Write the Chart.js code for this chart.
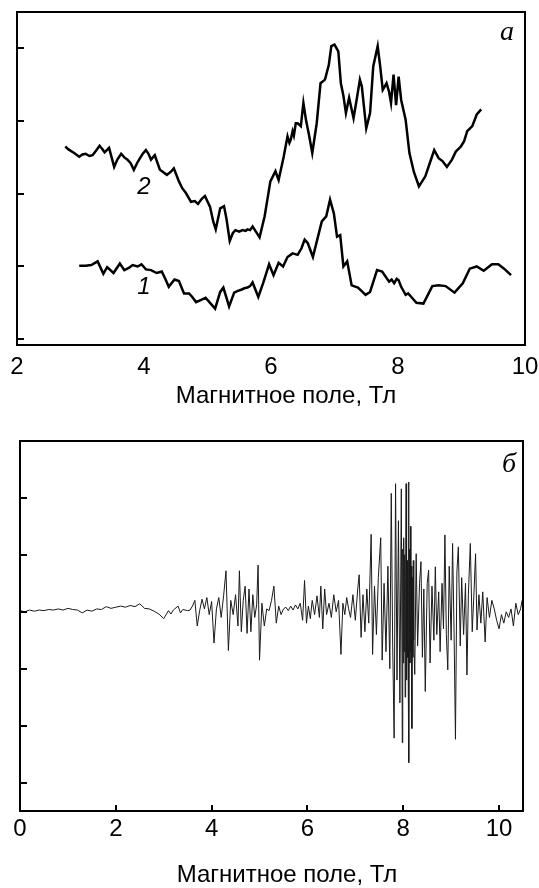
<!DOCTYPE html>
<html lang="ru">
<head>
<meta charset="UTF-8" />
<title>Магнитное поле, Тл</title>
<script src="https://cdn.jsdelivr.net/npm/chart.js"></script>
<style>
  body { margin: 0; background: #fff; }
  .wrap { position: relative; width: 539px; height: 888px; }
  canvas { position: absolute; left: 0; }
  #chartA { top: 0; }
  #chartB { top: 430px; }
</style>
</head>
<body>
<div class="wrap">
  <canvas id="chartA" width="539" height="430"></canvas>
  <canvas id="chartB" width="539" height="458"></canvas>
</div>
<script>
// panel a, curve 2
const fieldA2 = [2.76, 2.81, 2.90, 2.98, 3.03, 3.08, 3.14, 3.19, 3.25, 3.30, 3.34, 3.38, 3.45, 3.49, 3.53, 3.58, 3.64, 3.69, 3.74, 3.79, 3.84, 3.89, 3.93, 3.98, 4.03, 4.07, 4.11, 4.17, 4.25, 4.30, 4.36, 4.42, 4.47, 4.55, 4.60, 4.66, 4.74, 4.80, 4.85, 4.91, 4.96, 5.04, 5.09, 5.13, 5.20, 5.26, 5.30, 5.35, 5.40, 5.44, 5.50, 5.55, 5.60, 5.63, 5.67, 5.71, 5.77, 5.82, 5.90, 5.99, 6.07, 6.12, 6.20, 6.26, 6.29, 6.31, 6.34, 6.36, 6.39, 6.42, 6.47, 6.51, 6.55, 6.60, 6.65, 6.72, 6.78, 6.85, 6.91, 6.95, 7.00, 7.06, 7.10, 7.14, 7.18, 7.23, 7.30, 7.35, 7.40, 7.43, 7.50, 7.56, 7.61, 7.68, 7.72, 7.76, 7.82, 7.86, 7.89, 7.93, 7.97, 8.01, 8.05, 8.12, 8.18, 8.25, 8.33, 8.43, 8.50, 8.57, 8.64, 8.70, 8.77, 8.85, 8.91, 8.99, 9.04, 9.09, 9.17, 9.24, 9.31];
const signalA2 = [2.65, 2.61, 2.56, 2.51, 2.54, 2.55, 2.52, 2.53, 2.60, 2.66, 2.62, 2.57, 2.63, 2.50, 2.37, 2.47, 2.55, 2.50, 2.47, 2.42, 2.33, 2.42, 2.48, 2.55, 2.60, 2.55, 2.47, 2.53, 2.33, 2.30, 2.26, 2.30, 2.35, 2.17, 2.08, 2.01, 1.89, 1.90, 1.86, 1.93, 1.97, 1.82, 1.62, 1.51, 1.80, 1.83, 1.65, 1.35, 1.46, 1.50, 1.48, 1.50, 1.49, 1.51, 1.50, 1.55, 1.47, 1.40, 1.69, 2.17, 2.31, 2.19, 2.51, 2.79, 2.70, 2.74, 2.86, 2.80, 2.97, 2.97, 2.93, 3.25, 3.02, 2.80, 2.56, 2.97, 3.52, 3.57, 3.77, 4.03, 4.05, 3.96, 3.52, 3.35, 3.11, 3.32, 3.04, 3.30, 3.57, 3.48, 2.90, 3.11, 3.75, 4.03, 3.75, 3.43, 3.52, 3.40, 3.25, 3.64, 3.22, 3.61, 3.29, 3.02, 2.56, 2.30, 2.10, 2.24, 2.42, 2.60, 2.49, 2.45, 2.37, 2.47, 2.58, 2.65, 2.72, 2.86, 2.93, 3.09, 3.16];

// panel a, curve 1
const fieldA1 = [2.98, 3.08, 3.17, 3.27, 3.36, 3.42, 3.52, 3.62, 3.69, 3.76, 3.82, 3.90, 3.96, 4.03, 4.11, 4.20, 4.28, 4.34, 4.39, 4.48, 4.55, 4.63, 4.71, 4.76, 4.82, 4.90, 4.97, 5.04, 5.12, 5.20, 5.25, 5.34, 5.42, 5.47, 5.53, 5.58, 5.63, 5.67, 5.71, 5.80, 5.88, 5.97, 6.04, 6.12, 6.19, 6.26, 6.34, 6.42, 6.48, 6.53, 6.58, 6.66, 6.74, 6.80, 6.87, 6.93, 6.99, 7.04, 7.09, 7.14, 7.20, 7.27, 7.37, 7.49, 7.56, 7.67, 7.75, 7.86, 7.90, 7.94, 7.98, 8.01, 8.05, 8.12, 8.16, 8.21, 8.29, 8.40, 8.54, 8.64, 8.75, 8.89, 9.02, 9.13, 9.24, 9.35, 9.48, 9.58, 9.67, 9.78];
const signalA1 = [1.01, 1.01, 1.02, 1.07, 0.90, 0.99, 0.91, 1.04, 0.95, 0.98, 1.02, 1.00, 1.03, 0.96, 0.95, 0.91, 0.93, 0.82, 0.72, 0.82, 0.80, 0.63, 0.63, 0.58, 0.51, 0.54, 0.57, 0.50, 0.42, 0.65, 0.71, 0.45, 0.64, 0.66, 0.68, 0.70, 0.71, 0.73, 0.78, 0.58, 0.78, 1.03, 0.88, 1.05, 1.00, 1.13, 1.18, 1.16, 1.25, 1.37, 1.32, 1.13, 1.41, 1.62, 1.69, 1.92, 1.73, 1.41, 1.43, 1.00, 1.07, 0.74, 0.71, 0.61, 0.65, 0.95, 0.93, 0.79, 0.82, 0.77, 0.83, 0.81, 0.72, 0.61, 0.63, 0.58, 0.50, 0.49, 0.73, 0.74, 0.73, 0.64, 0.77, 0.97, 1.00, 0.94, 1.03, 1.03, 0.97, 0.88];

// panel б
const fieldB = [0.0, 0.1, 0.2, 0.3, 0.4, 0.5, 0.6, 0.7, 0.8, 0.9, 1.0, 1.1, 1.2, 1.3, 1.4, 1.5, 1.6, 1.7, 1.8, 1.9, 2.0, 2.1, 2.2, 2.3, 2.4, 2.5, 2.6, 2.7, 2.8, 2.9, 3.0, 3.1, 3.15, 3.2, 3.3, 3.35, 3.4, 3.5, 3.55,
  3.60, 3.65, 3.70, 3.75, 3.80, 3.85, 3.90, 3.95, 4.00, 4.05, 4.10, 4.15, 4.20, 4.25, 4.30, 4.35, 4.40, 4.45, 4.50, 4.55, 4.58, 4.62, 4.66, 4.70, 4.74, 4.78, 4.82, 4.86, 4.90, 4.94, 4.97, 5.00, 5.05, 5.10, 5.15, 5.20, 5.25, 5.30, 5.35, 5.40, 5.45, 5.50, 5.55, 5.60, 5.65, 5.70, 5.75, 5.80, 5.85, 5.90, 5.94, 5.98, 6.02, 6.06, 6.10, 6.15, 6.20, 6.25, 6.28, 6.32, 6.36, 6.40, 6.45, 6.50, 6.55, 6.60, 6.65, 6.70, 6.74, 6.78, 6.82, 6.86, 6.90, 6.95, 7.00, 7.05, 7.08, 7.12, 7.16, 7.20, 7.24, 7.28, 7.33, 7.36, 7.40, 7.44, 7.48, 7.53, 7.56, 7.60, 7.64, 7.68, 7.72, 7.75, 7.78, 7.81, 7.84, 7.87, 7.90, 7.93, 7.96, 7.98, 7.99, 8.00, 8.01, 8.02, 8.03, 8.04, 8.05, 8.06, 8.07, 8.08, 8.09, 8.10, 8.11, 8.12, 8.13, 8.14, 8.15, 8.16, 8.17, 8.18, 8.19, 8.20, 8.21, 8.22, 8.24, 8.27, 8.30, 8.34, 8.37, 8.40, 8.43, 8.46, 8.50, 8.53, 8.56, 8.60, 8.64, 8.67, 8.70, 8.74, 8.77, 8.81, 8.84, 8.87, 8.90, 8.93, 8.96, 9.00, 9.03, 9.06, 9.09, 9.12, 9.15, 9.19, 9.22, 9.26, 9.30, 9.33, 9.36, 9.40, 9.44, 9.48, 9.51, 9.54, 9.58, 9.62, 9.66, 9.71, 9.75, 9.80, 9.85, 9.90, 9.95, 10.00, 10.05, 10.10, 10.15, 10.20, 10.25, 10.30, 10.35, 10.40, 10.45, 10.48];
const signalB = [0.02, 0.00, 0.03, 0.01, 0.03, 0.02, 0.04, 0.03, 0.05, 0.03, 0.06, 0.04, 0.03, -0.02, 0.03, 0.01, 0.05, 0.04, 0.09, 0.06, 0.08, 0.10, 0.08, 0.11, 0.09, 0.14, 0.06, 0.05, 0.01, -0.04, -0.12, 0.02, -0.04, 0.03, 0.10, -0.02, 0.04, 0.02, 0.03,
  0.10, 0.20, -0.25, 0.02, 0.22, 0.05, 0.25, -0.05, 0.18, -0.55, 0.05, 0.25, -0.10, 0.28, 0.72, -0.68, 0.20, -0.05, 0.30, -0.25, 0.72, -0.35, 0.20, 0.45, -0.38, 0.40, -0.35, 0.30, -0.10, 0.12, 0.82, -0.85, 0.15, -0.25, 0.05, 0.02, 0.20, 0.45, -0.20, 0.10, -0.05, 0.05, 0.08, 0.02, 0.10, 0.03, 0.12, 0.05, 0.15, -0.15, 0.55, -0.20, 0.10, -0.12, 0.20, -0.05, 0.28, -0.10, 0.45, -0.30, 0.40, -0.05, 0.15, -0.10, 0.30, 0.00, 0.20, -0.75, 0.15, -0.05, 0.25, 0.05, -0.10, 0.30, -0.15, 0.40, 0.65, -0.45, 0.30, -0.35, 0.40, -0.20, 1.36, -0.75, 0.45, -0.40, 0.60, 1.30, -0.85, 0.50, -0.70, 0.80, -1.00, 2.08, -0.60, -2.22, 2.25, -1.20, 1.60, -1.60, 2.16, -2.30, 1.10, -0.90, 1.30, -0.70, 1.00, -1.50, 0.60, 2.25, -1.20, 0.90, -0.80, -0.60, 2.28, -2.65, 1.10, -0.90, 1.50, -0.70, 0.80, -2.05, 0.60, -0.80, 0.90, -0.50, -1.10, 1.02, -0.60, 0.50, 0.88, -0.80, 0.40, -1.40, 0.50, 0.73, -0.90, 0.45, -0.50, 0.79, -0.40, 0.35, -0.70, 0.50, -0.30, 1.35, -0.40, -1.02, 0.80, -0.50, 1.20, -0.30, -2.24, 0.70, 1.14, -0.60, 0.60, -0.40, 0.50, -1.11, 0.30, 1.20, -0.35, 0.40, 1.02, -0.32, 0.30, -0.20, 0.35, -0.53, 0.25, -0.10, 0.20, 0.05, -0.15, -0.30, -0.05, -0.20, 0.00, -0.10, 0.05, -0.25, 0.15, -0.05, 0.05, 0.20];

const xTicksA = [2, 4, 6, 8, 10];
const yTicksA = [0, 1, 2, 3, 4];
const xTicksB = [0, 2, 4, 6, 8, 10];
const yTicksB = [-3, -2, -1, 0, 1, 2];

const sans = '"Liberation Sans", Arial, Helvetica, sans-serif';
const serif = '"Liberation Serif", "Times New Roman", serif';

function points(xs, ys) {
  return xs.map((x, i) => ({ x: x, y: ys[i] }));
}

// frame, inward ticks and the free-standing texts
const framePlugin = {
  id: 'frame',
  afterDraw(chart, args, opts) {
    const ctx = chart.ctx;
    const a = chart.chartArea;
    const sx = chart.scales.x, sy = chart.scales.y;
    ctx.save();
    ctx.strokeStyle = '#000';
    ctx.lineWidth = 2;
    ctx.strokeRect(a.left, a.top, a.right - a.left, a.bottom - a.top);
    ctx.beginPath();
    opts.yTicks.forEach(v => {
      const y = Math.round(sy.getPixelForValue(v));
      ctx.moveTo(a.left, y);
      ctx.lineTo(a.left + 7, y);
    });
    (opts.xTicks || []).forEach(v => {
      const x = Math.round(sx.getPixelForValue(v));
      ctx.moveTo(x, a.bottom);
      ctx.lineTo(x, a.bottom - 6);
    });
    ctx.stroke();
    ctx.fillStyle = '#000';
    ctx.textAlign = 'center';
    ctx.textBaseline = 'middle';
    ctx.font = '24px ' + sans;
    ctx.fillText(opts.title, opts.titleX, opts.titleY);
    opts.texts.forEach(t => {
      ctx.font = t.font;
      ctx.fillText(t.text, t.x, t.y);
    });
    ctx.restore();
  }
};

function makeOptions(cfg) {
  return {
    responsive: false,
    animation: false,
    layout: { padding: cfg.padding },
    plugins: {
      legend: { display: false },
      tooltip: { enabled: false },
      frame: cfg.frame
    },
    elements: { point: { radius: 0 }, line: { tension: 0 } },
    scales: {
      x: {
        type: 'linear',
        min: cfg.xMin,
        max: cfg.xMax,
        grid: { display: false, drawTicks: false },
        border: { display: false },
        ticks: {
          stepSize: 2,
          includeBounds: false,
          padding: cfg.tickPad,
          color: '#000',
          font: { family: sans, size: 24 },
          maxRotation: 0
        },
        afterFit(scale) {
          scale.height = cfg.axisHeight;
          scale.paddingLeft = 0;
          scale.paddingRight = 0;
        }
      },
      y: {
        type: 'linear',
        display: false,
        min: cfg.yMin,
        max: cfg.yMax
      }
    }
  };
}

new Chart(document.getElementById('chartA'), {
  type: 'line',
  data: {
    datasets: [
      { data: points(fieldA2, signalA2), borderColor: '#000', borderWidth: 2.5, fill: false },
      { data: points(fieldA1, signalA1), borderColor: '#000', borderWidth: 2.5, fill: false }
    ]
  },
  options: makeOptions({
    padding: { left: 17, right: 14, top: 12, bottom: 0 },
    xMin: 2, xMax: 10, yMin: -0.08, yMax: 4.5,
    tickPad: 8, axisHeight: 85,
    frame: {
      yTicks: yTicksA,
      title: 'Магнитное поле, Тл', titleX: 286, titleY: 396,
      texts: [
        { text: 'а', x: 507, y: 33, font: 'italic 28px ' + serif },
        { text: '2', x: 144, y: 187, font: 'italic 24px ' + sans },
        { text: '1', x: 144, y: 287, font: 'italic 24px ' + sans }
      ]
    }
  }),
  plugins: [framePlugin]
});

new Chart(document.getElementById('chartB'), {
  type: 'line',
  data: {
    datasets: [
      { data: points(fieldB, signalB), borderColor: '#1a1a1a', borderWidth: 1, fill: false }
    ]
  },
  options: makeOptions({
    padding: { left: 20, right: 16, top: 11, bottom: 0 },
    xMin: 0, xMax: 10.5, yMin: -3.5, yMax: 3.0,
    tickPad: 4, axisHeight: 77,
    frame: {
      yTicks: yTicksB,
      xTicks: xTicksB,
      title: 'Магнитное поле, Тл', titleX: 287, titleY: 445,
      texts: [
        { text: 'б', x: 509, y: 35, font: 'italic 28px ' + serif }
      ]
    }
  }),
  plugins: [framePlugin]
});
</script>
</body>
</html>
